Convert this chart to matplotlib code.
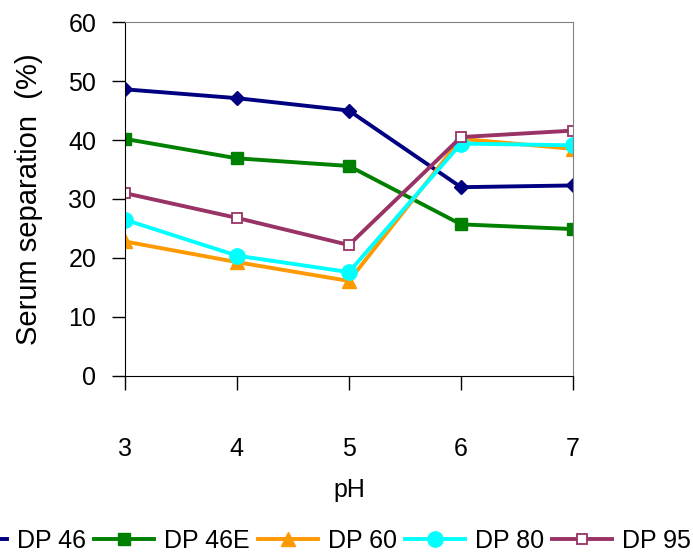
import matplotlib.pyplot as plt

# pH values and serum separation (%) for each sample
ph = [3, 4, 5, 6, 7]
dp46 = [48.6, 47.1, 45.0, 32.0, 32.3]
dp46e = [40.2, 36.9, 35.6, 25.7, 24.9]
dp60 = [22.8, 19.3, 16.1, 40.2, 38.5]
dp80 = [26.5, 20.4, 17.6, 39.4, 39.1]
dp95 = [31.0, 26.8, 22.2, 40.5, 41.6]

font = ['Liberation Sans', 'DejaVu Sans']
plt.rcParams['font.family'] = font

fig = plt.figure(figsize=(6.93, 5.52), dpi=100)
ax = fig.add_axes([0.180, 0.319, 0.647, 0.641])

lw = 2.8
ax.plot(ph, dp46, color='#000080', lw=lw, marker='D', ms=7, label='DP 46')
ax.plot(ph, dp46e, color='#008000', lw=lw, marker='s', ms=8, label='DP 46E')
ax.plot(ph, dp60, color='#FF9900', lw=lw, marker='^', ms=10, label='DP 60')
ax.plot(ph, dp80, color='#00FFFF', lw=lw, marker='o', ms=11, label='DP 80')
ax.plot(ph, dp95, color='#993366', lw=lw, marker='s', ms=7.5, mfc='white',
        mew=1.3, label='DP 95')

ax.set_xlim(3, 7)
ax.set_ylim(0, 60)
ax.set_xticks(ph)
ax.set_yticks(range(0, 61, 10))

for side in ['top', 'right']:
    ax.spines[side].set_color('#808080')
for side in ['left', 'bottom']:
    ax.spines[side].set_color('black')
ax.tick_params(axis='x', direction='out', length=10, width=1, pad=34,
               labelsize=18)
ax.tick_params(axis='y', direction='out', length=9.5, width=1, pad=11,
               labelsize=18)

ax.set_ylabel('Serum separation  (%)', fontsize=21, labelpad=18)
ax.set_xlabel('pH', fontsize=18, labelpad=12)

# single-row legend along the bottom edge, running off the left side
fig.legend(loc='lower right', bbox_to_anchor=(691 / 693, -1 / 552), ncol=5,
           frameon=False, fontsize=18, borderpad=0, borderaxespad=0,
           handlelength=2.4, handletextpad=0.4, columnspacing=0.32)

fig.savefig('out.png', dpi=100)
